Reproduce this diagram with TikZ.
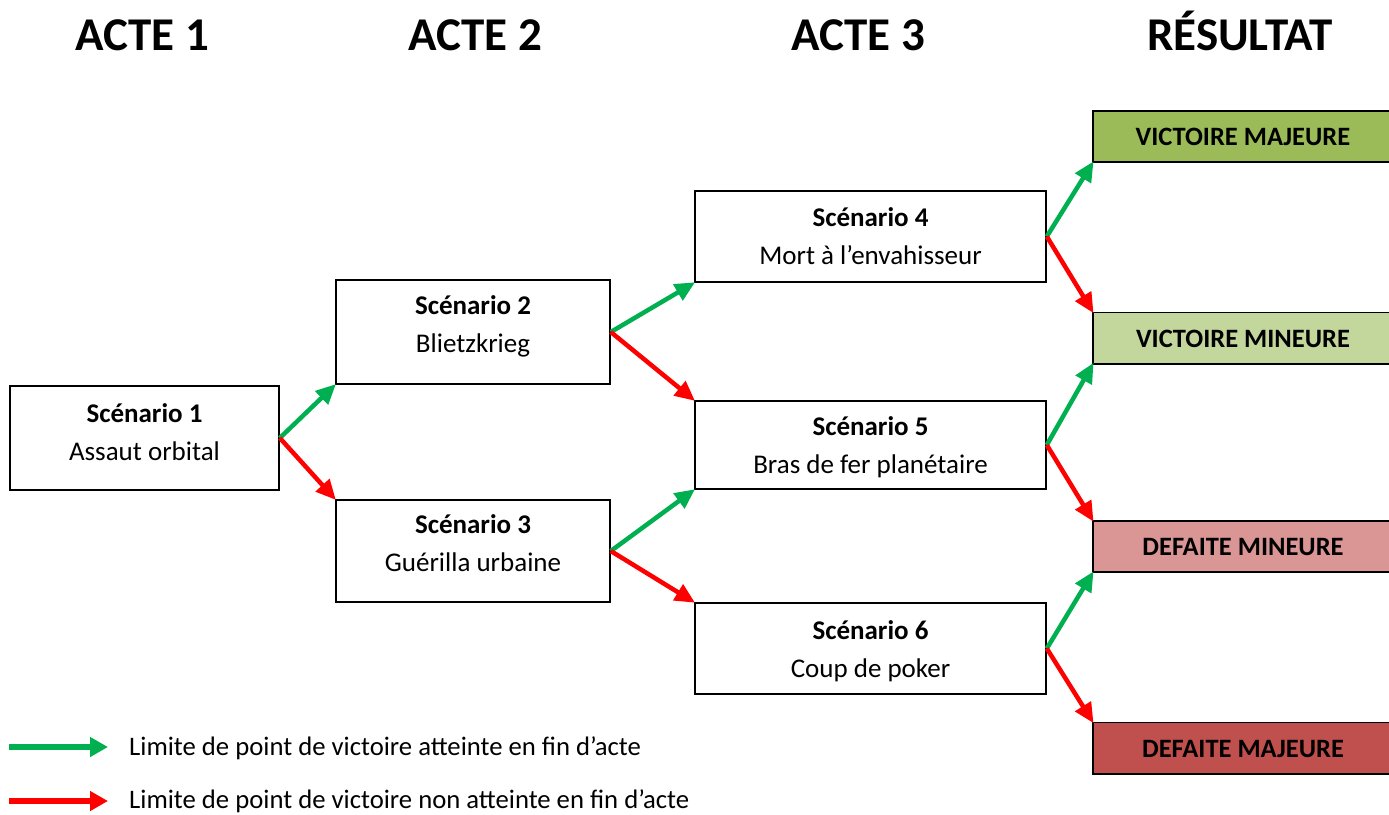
\documentclass[tikz,border=0pt]{standalone}
\usepackage{fontspec}
\setmainfont{Carlito}
\usetikzlibrary{arrows.meta}
\definecolor{garrow}{HTML}{00B050}
\definecolor{rarrow}{HTML}{FF0000}
\definecolor{vmaj}{HTML}{9BBB59}
\definecolor{vmin}{HTML}{C3D69B}
\definecolor{dmin}{HTML}{D99694}
\definecolor{dmaj}{HTML}{C0504D}
\begin{document}
\begin{tikzpicture}[x=1pt,y=-1pt,
  scen/.style={draw=black,line width=1.6pt,fill=white,inner sep=0pt},
  stxt/.style={align=center,inner sep=0pt,font=\fontsize{27}{38}\selectfont},
  res/.style={inner sep=0pt,minimum width=340pt,minimum height=51pt,anchor=west},
  resedge/.style={draw=black,line width=1.6pt},
  rtxt/.style={inner sep=0pt,font=\fontsize{26.5}{30}\selectfont\bfseries},
  head/.style={font=\fontsize{47}{50}\selectfont\bfseries,anchor=base,inner sep=0pt},
  win/.style={draw=garrow,line width=4.5pt,-{Triangle[length=20pt,width=18pt]},shorten >=-1pt},
  lose/.style={draw=rarrow,line width=4.5pt,-{Triangle[length=20pt,width=18pt]},shorten >=-1pt},
  legw/.style={draw=garrow,line width=6pt,-{Triangle[length=18pt,width=19pt]}},
  legl/.style={draw=rarrow,line width=6pt,-{Triangle[length=18pt,width=19pt]}},
  leg/.style={font=\fontsize{26.7}{30}\selectfont,anchor=west,inner sep=0pt}]
\useasboundingbox (0,0) rectangle (1389,814);
\clip (0,0) rectangle (1389,814);
% headings
\node[head] (h1) at (142,50) {ACTE 1};
\node[head] (h2) at (475,50) {ACTE 2};
\node[head] (h3) at (858,50) {ACTE 3};
\node[head] (h4) at (1240,50) {RÉSULTAT};
% scenario boxes
\node[scen,minimum width=269pt,minimum height=104pt] (s1) at (144.5,438) {};
\node[scen,minimum width=274pt,minimum height=104pt] (s2) at (473,332) {};
\node[scen,minimum width=274pt,minimum height=102pt] (s3) at (473,551) {};
\node[scen,minimum width=351pt,minimum height=91pt] (s4) at (870.5,236.5) {};
\node[scen,minimum width=351pt,minimum height=88pt] (s5) at (870.5,445) {};
\node[scen,minimum width=351pt,minimum height=91pt] (s6) at (870.5,648.5) {};
% scenario texts
\node[stxt] (t1) at (144.5,432) {\textbf{Scénario 1}\\Assaut orbital};
\node[stxt] (t2) at (473,326.5) {\textbf{Scénario 2}\\Blietzkrieg};
\node[stxt] (t3) at (473,543.5) {\textbf{Scénario 3}\\Guérilla urbaine};
\node[stxt] (t4) at (870.5,236) {\textbf{Scénario 4}\\Mort à l’envahisseur};
\node[stxt] (t5) at (870.5,447) {\textbf{Scénario 5}\\Bras de fer planétaire};
\node[stxt] (t6) at (870.5,651.5) {\textbf{Scénario 6}\\Coup de poker};
% results (right side runs off the page)
\node[res,fill=vmaj] (r1) at (1093,136.5) {};
\node[res,fill=vmin] (r2) at (1093,338) {};
\node[res,fill=dmin] (r3) at (1093,546.5) {};
\node[res,fill=dmaj] (r4) at (1093,748) {};
\foreach \r in {r1,r2,r3,r4}{
  \draw[resedge] (\r.north east) -- (\r.north west) -- (\r.south west) -- (\r.south east);
}
\node[rtxt] (u1) at (1243,137) {VICTOIRE MAJEURE};
\node[rtxt] (u2) at (1243,338.5) {VICTOIRE MINEURE};
\node[rtxt] (u3) at (1243,547) {DEFAITE MINEURE};
\node[rtxt] (u4) at (1243,748.5) {DEFAITE MAJEURE};
% arrows
\draw[win] (s1.east) -- (s2.south west);
\draw[lose] (s1.east) -- (s3.north west);
\draw[win] (s2.east) -- (s4.south west);
\draw[lose] (s2.east) -- (s5.north west);
\draw[win] (s3.east) -- (s5.south west);
\draw[lose] (s3.east) -- (s6.north west);
\draw[win] (s4.east) -- (r1.south west);
\draw[lose] (s4.east) -- (r2.north west);
\draw[win] (s5.east) -- (r2.south west);
\draw[lose] (s5.east) -- (r3.north west);
\draw[win] (s6.east) -- (r3.south west);
\draw[lose] (s6.east) -- (r4.north west);
% legend
\coordinate (g0) at (9,747);
\coordinate (g1) at (108,747);
\coordinate (q0) at (9,801);
\coordinate (q1) at (108,801);
\draw[legw] (g0) -- (g1);
\draw[legl] (q0) -- (q1);
\node[leg] (l1) at (129,748) {Limite de point de victoire atteinte en fin d’acte};
\node[leg] (l2) at (129,801) {Limite de point de victoire non atteinte en fin d’acte};
\end{tikzpicture}
\end{document}
